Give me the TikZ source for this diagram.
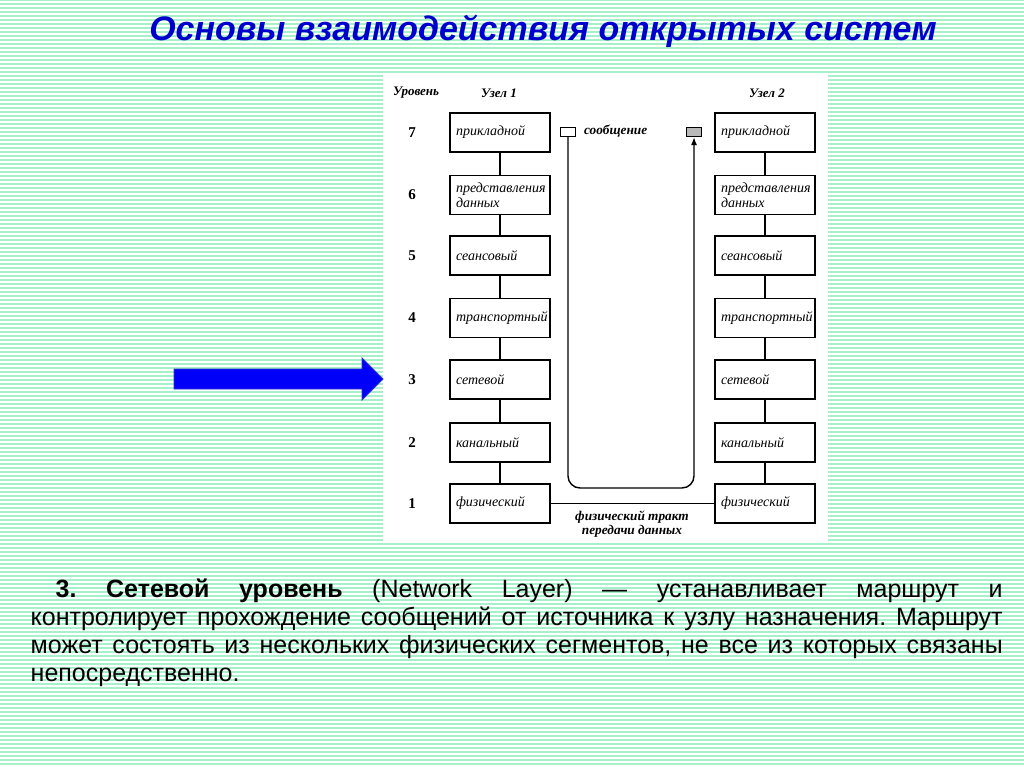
\documentclass[tikz,border=0pt]{standalone}
\usepackage{fontspec}
\setmainfont{Liberation Serif}
\setsansfont{Liberation Sans}
\usetikzlibrary{arrows.meta}
\definecolor{mint}{RGB}{166,240,204}
\definecolor{titleblue}{RGB}{0,0,204}
\definecolor{arrowblue}{RGB}{0,0,250}

\begin{document}
\begin{tikzpicture}[x=1pt,y=-1pt,line width=1.4pt,
  layer/.style={draw,minimum width=100pt,minimum height=39pt,text width=88pt,
    align=left,inner sep=4pt,font=\fontsize{14}{14.5}\selectfont\itshape},
  msgbox/.style={draw,line width=1.1pt,minimum width=15pt,minimum height=9pt,inner sep=0pt},
  lvl/.style={font=\fontsize{15}{15}\selectfont\bfseries},
  head/.style={font=\fontsize{13}{13}\selectfont\bfseries\itshape},
  note/.style={font=\fontsize{13.3}{13.5}\selectfont\bfseries\itshape,align=center}]
 \useasboundingbox (0,0) rectangle (1024,767);
 % striped background and the white sheet
 \fill[mint] (0,0) rectangle (1024,767);
 \foreach \y in {2,6,...,766} \draw[white,line width=1.3pt] (0,\y) -- (1024,\y);
 \fill[white] (383,75) rectangle (828,543);
 \node[font=\sffamily\bfseries\itshape\fontsize{34}{34}\selectfont,text=titleblue,anchor=base]
   (title) at (543,41) {Основы взаимодействия открытых систем};
 % levels of both nodes
 \node[head,anchor=west] (lev) at (389,93) {Уровень};
 \node[head] (n1) at (499,93) {Узел 1};
 \node[head] (n2) at (767,93) {Узел 2};
 \foreach \n/\yy/\txt in {7/132.5/прикладной,6/195/{представления\\данных},
   5/255.5/сеансовый,4/318/транспортный,3/379.5/сетевой,2/442.5/канальный,1/503.5/физический}{
   \node[lvl] (l\n) at (412,\yy) {\n};
   \node[layer] (a\n) at (500,\yy) {\txt};
   \node[layer] (b\n) at (765,\yy) {\txt};
 }
 \foreach \i/\j in {7/6,6/5,5/4,4/3,3/2,2/1}{
   \draw (a\i) -- (a\j); \draw (b\i) -- (b\j);
 }
 % message path
 \node[msgbox] (m1) at (568,132) {};
 \node[msgbox,fill=gray!55] (m2) at (694,132) {};
 \node[note,anchor=west] (msg) at (580,131) {сообщение};
 \coordinate (turn) at (630,488);
 \draw[rounded corners=12pt,-{Latex[length=8pt,width=6pt]}] (m1.south) |- (turn) -| (m2.south);
 % physical link
 \draw (a1) -- (b1);
 \node[note] (phys) at (632,524) {физический тракт\\передачи данных};
 % pointer
 \fill[arrowblue,draw=blue!60!gray,line width=0.8pt] (174,369) -- (362,369) -- (362,358) -- (383,379)
   -- (362,400) -- (362,389) -- (174,389) -- cycle;
 \node[anchor=north west,text width=972pt,align=justify,inner sep=0pt,
   font=\sffamily\fontsize{25}{28}\selectfont\frenchspacing] (para) at (30,578.5)
   {\hspace*{25pt}\textbf{3. Сетевой уровень} (Network Layer) — устанавливает маршрут и\linebreak
   контролирует прохождение сообщений от источника к узлу назначения. Маршрут\linebreak
   может состоять из нескольких физических сегментов, не все из которых связаны\linebreak
   непосредственно.};
\end{tikzpicture}
\end{document}
